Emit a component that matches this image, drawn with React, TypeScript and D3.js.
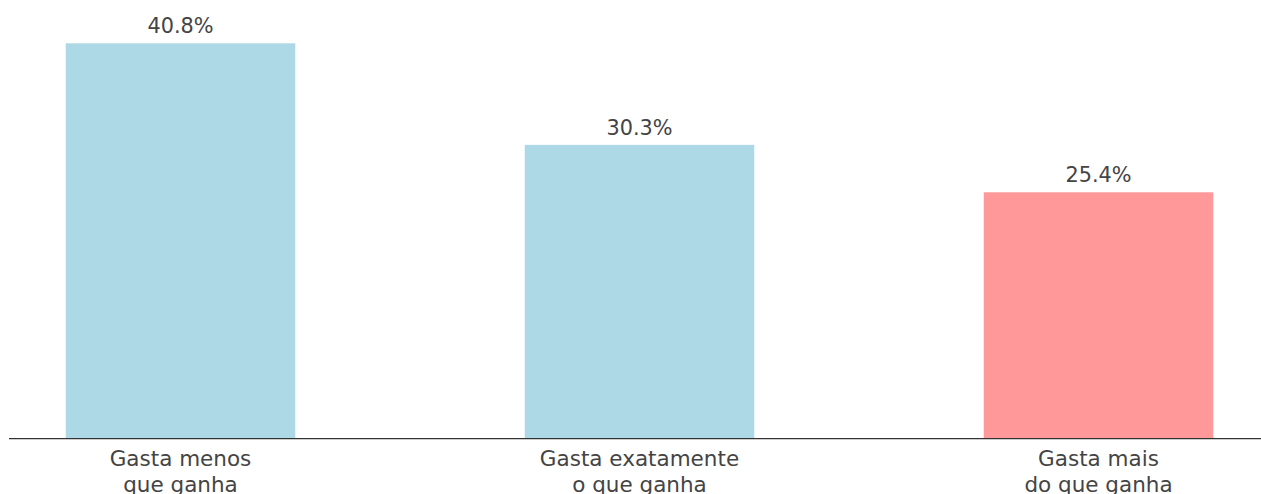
import React from "react";
import * as d3 from "d3";

const categories: string[][] = [
  ["Gasta menos", "que ganha"],
  ["Gasta exatamente", "o que ganha"],
  ["Gasta mais", "do que ganha"],
];
const values: number[] = [40.8, 30.3, 25.4];
const colors: string[] = ["#ADD8E6", "#ADD8E6", "#FF9999"];

export default function App() {
  const W = 1261;
  const H = 494;
  const x = d3.scaleLinear().domain([0, 2]).range([180.5, 1098.5]);
  const y = d3.scaleLinear().domain([0, 40.8]).range([438, 43.3]);
  const barW = x(0.5) - x(0);
  const font = "'DejaVu Sans', sans-serif";
  return (
    <svg width={W} height={H} style={{ position: "absolute", left: 0, top: 0 }}>
      {values.map((v, i) => (
        <g key={i}>
          <rect x={x(i) - barW / 2} y={y(v)} width={barW} height={y(0) - y(v)} fill={colors[i]} />
          <text x={x(i)} y={y(v) - 10} textAnchor="middle" fontFamily={font} fontSize={20.8} fill="#444">
            {v.toFixed(1) + "%"}
          </text>
          {categories[i].map((t, j) => (
            <text key={j} x={x(i)} y={466 + j * 25.5} textAnchor="middle" fontFamily={font} fontSize={21.5} fill="#444">
              {t}
            </text>
          ))}
        </g>
      ))}
      <line x1={9} x2={1261} y1={438.7} y2={438.7} stroke="#333" strokeWidth={1.3} />
    </svg>
  );
}
